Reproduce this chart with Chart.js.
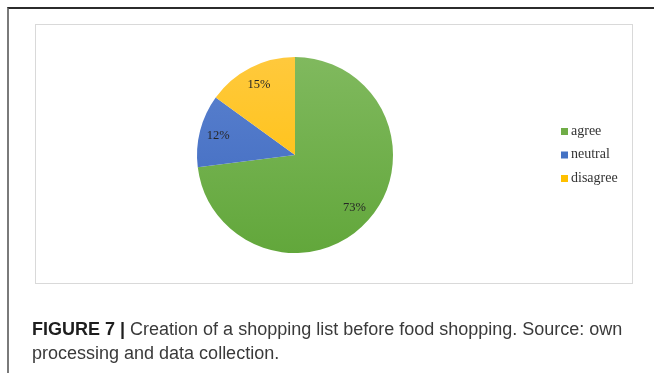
<!DOCTYPE html>
<html lang="en">
<head>
    <meta charset="UTF-8">
    <title>Figure 7 - Shopping list</title>
    <style>
        body {
            margin: 0;
            background: #fff;
            width: 654px;
            height: 373px;
            position: relative;
            overflow: hidden;
        }
        .frame {
            position: absolute;
            left: 7px;
            top: 7px;
            right: -10px;
            bottom: -10px;
            border-top: 2px solid #2b2b2b;
            border-left: 2px solid #7a7a7a;
        }
        .plot-box {
            position: absolute;
            left: 35px;
            top: 24px;
            width: 596px;
            height: 258px;
            border: 1px solid #d9d9d9;
        }
        .caption {
            position: absolute;
            left: 32px;
            top: 317px;
            width: 615px;
            font-family: 'Liberation Sans', Arial, sans-serif;
            font-size: 18px;
            line-height: 24px;
            color: #3a3a3a;
        }
        .caption b {
            color: #1e1e1e;
        }
        #chart {
            position: absolute;
            left: 0;
            top: 0;
        }
    </style>
</head>
<body>

    <div class="frame"></div>
    <div class="plot-box"></div>
    <canvas id="chart" width="654" height="373"></canvas>
    <div class="caption"><b>FIGURE 7 |</b> Creation of a shopping list before food shopping. Source: own processing and data collection.</div>

    <script src="https://cdn.jsdelivr.net/npm/chart.js"></script>
    <script>
        // data
        const labels = ["agree", "neutral", "disagree"];
        const values = [73, 12, 15];
        const topColors = ["#80b95e", "#5b82cf", "#ffc93d"];
        const bottomColors = ["#62a73b", "#3d68bf", "#ffbf00"];
        const solidColors = ["#70ad47", "#4472c4", "#ffc000"];

        function sliceFill(context) {
            const chart = context.chart;
            const area = chart.chartArea;
            if (!area) return solidColors[context.dataIndex];
            const g = chart.ctx.createLinearGradient(0, area.top, 0, area.bottom);
            g.addColorStop(0, topColors[context.dataIndex]);
            g.addColorStop(1, bottomColors[context.dataIndex]);
            return g;
        }

        // percent labels inside slices
        const sliceLabels = {
            id: "sliceLabels",
            afterDatasetsDraw(chart) {
                const ctx = chart.ctx;
                const meta = chart.getDatasetMeta(0);
                ctx.save();
                ctx.font = "12.5px 'Liberation Serif', 'Times New Roman', serif";
                ctx.fillStyle = "#262626";
                ctx.textAlign = "center";
                ctx.textBaseline = "middle";
                meta.data.forEach((arc, i) => {
                    const mid = (arc.startAngle + arc.endAngle) / 2;
                    const r = arc.outerRadius * 0.81;
                    ctx.fillText(values[i] + "%", arc.x + Math.cos(mid) * r, arc.y + Math.sin(mid) * r);
                });
                ctx.restore();
            }
        };

        // legend on the right
        const sideLegend = {
            id: "sideLegend",
            afterDraw(chart) {
                const ctx = chart.ctx;
                const x = 561, y0 = 131, step = 23.5;
                ctx.save();
                ctx.font = "14px 'Liberation Serif', 'Times New Roman', serif";
                ctx.textBaseline = "middle";
                labels.forEach((name, i) => {
                    const y = y0 + i * step;
                    ctx.fillStyle = solidColors[i];
                    ctx.fillRect(x, y - 3, 7, 7);
                    ctx.fillStyle = "#333";
                    ctx.fillText(name, x + 10, y);
                });
                ctx.restore();
            }
        };

        new Chart(document.getElementById("chart"), {
            type: "pie",
            data: {
                labels: labels,
                datasets: [{
                    data: values,
                    backgroundColor: sliceFill,
                    borderWidth: 0
                }]
            },
            options: {
                responsive: false,
                animation: false,
                layout: { padding: { top: 57, bottom: 120, left: 197, right: 261 } },
                plugins: {
                    legend: { display: false },
                    tooltip: { enabled: false }
                }
            },
            plugins: [sliceLabels, sideLegend]
        });
    </script>

</body>
</html>
